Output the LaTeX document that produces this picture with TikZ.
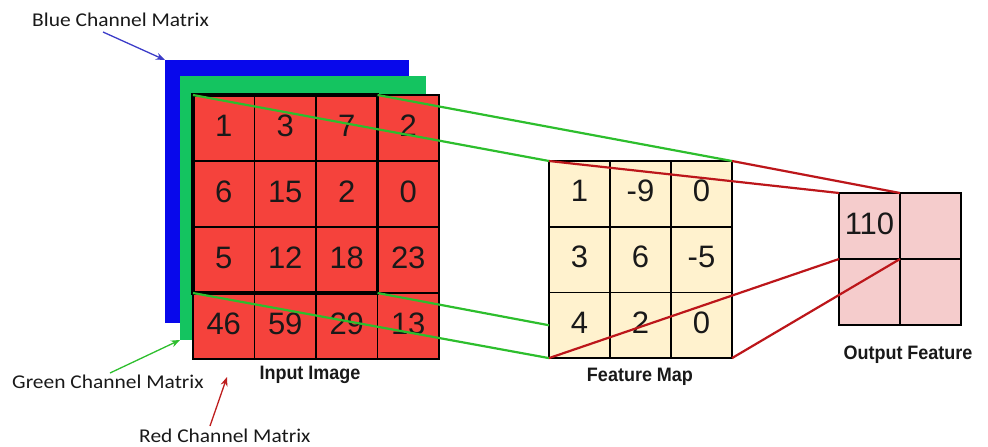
\documentclass[tikz,border=0pt]{standalone}
\usepackage{fontspec}
\setmainfont{Liberation Sans}
\newfontfamily\labelfont{Carlito}
\usetikzlibrary{fit,arrows.meta}

\definecolor{planeblue}{RGB}{8,8,235}
\definecolor{planegreen}{RGB}{20,196,96}
\definecolor{cellred}{RGB}{245,66,60}
\definecolor{cellcream}{RGB}{255,242,206}
\definecolor{cellpink}{RGB}{245,204,204}
\definecolor{linkgreen}{RGB}{45,190,45}
\definecolor{linkred}{RGB}{188,22,26}
\definecolor{tagblue}{RGB}{60,60,200}
\definecolor{tagred}{RGB}{190,30,30}
\definecolor{ink}{RGB}{25,25,25}

\tikzset{
  cellbase/.style={draw=black, line width=1.6pt, inner sep=0pt, outer sep=0pt,
    font=\fontsize{31}{31}\selectfont, text=ink, text depth=6pt, text height=22pt},
  redcell/.style={cellbase, fill=cellred, minimum width=61.5pt, minimum height=66pt},
  creamcell/.style={cellbase, fill=cellcream, minimum width=61pt, minimum height=65.7pt},
  pinkcell/.style={cellbase, fill=cellpink, minimum width=61pt, minimum height=66pt},
  plane/.style={inner sep=0pt, outer sep=0pt},
  chantag/.style={font=\labelfont\fontsize{19.5}{19.5}\selectfont, text=ink, inner sep=0pt, anchor=west, xscale=1.1},
  caption/.style={font=\bfseries\fontsize{18}{18}\selectfont, text=ink, inner sep=0pt, yscale=1.08},
  linkg/.style={draw=linkgreen, line width=2.2pt},
  linkr/.style={draw=linkred, line width=2.2pt},
  tagarrow/.style={line width=1.3pt, -{Stealth[length=9pt,width=7pt]}},
}

\begin{document}
\begin{tikzpicture}[x=1pt, y=-1pt]
\useasboundingbox (0,0) rectangle (988,447);

% colour planes behind the red channel
\node[plane, fill=planeblue, minimum width=244pt, minimum height=263pt, anchor=north west] (blue) at (165,60) {};
\node[plane, fill=planegreen, minimum width=246pt, minimum height=264pt, anchor=north west] (green) at (180,76) {};

% red channel 4x4
\foreach \row/\vals in {1/{1,3,7,2}, 2/{6,15,2,0}, 3/{5,12,18,23}, 4/{46,59,29,13}} {
  \foreach \v [count=\col] in \vals {
    \node[redcell] (r\row\col) at ({193+61.5*(\col-0.5)}, {95+66*(\row-0.5)}) {\v};
  }
}
% 3x3 window
\node[fit=(r11)(r33), inner sep=0pt, outer sep=0pt, draw=black, line width=3.4pt] (win) {};

% feature map 3x3
\foreach \row/\vals in {1/{1,-9,0}, 2/{3,6,-5}, 3/{4,2,0}} {
  \foreach \v [count=\col] in \vals {
    \node[creamcell] (f\row\col) at ({549+61*(\col-0.5)}, {161+65.7*(\row-0.5)}) {\v};
  }
}
\node[fit=(f11)(f33), inner sep=0pt, outer sep=0pt] (fm) {};

% output feature 2x2
\foreach \row/\vals in {1/{110,{}}, 2/{{},{}}} {
  \foreach \v [count=\col] in \vals {
    \node[pinkcell] (o\row\col) at ({839+61*(\col-0.5)}, {193+66*(\row-0.5)}) {\v};
  }
}
\node[fit=(o11)(o22), inner sep=0pt, outer sep=0pt] (of) {};

% window to feature map
\draw[linkg] (win.north west) -- (fm.north west);
\draw[linkg] (win.north east) -- (fm.north east);
\draw[linkg] (win.south west) -- (fm.south west);
\draw[linkg] (win.south east) -- (f31.west);

% feature map to output
\draw[linkr] (fm.north west) -- (of.north west);
\draw[linkr] (fm.north east) -- (o11.north east);
\draw[linkr] (fm.south west) -- (o11.south west);
\draw[linkr] (fm.south east) -- (o11.south east);

% captions
\node[caption] (capin) at (310,375) {Input Image};
\node[caption] (capfm) at (640,377) {Feature Map};
\node[caption] (capout) at (908,355) {Output Feature};

% channel tags
\node[chantag] (tagb) at (32,20) {Blue Channel Matrix};
\node[chantag] (tagg) at (12,382) {Green Channel Matrix};
\node[chantag] (tagr) at (139,436) {Red Channel Matrix};

\coordinate (tailb) at (103,32);
\coordinate (tailg) at (110,373);
\coordinate (tailr) at (210,426);
\coordinate (headr) at (227,377);

\draw[tagarrow, tagblue] (tailb) -- (blue.north west);
\draw[tagarrow, linkgreen] (tailg) -- (green.south west);
\draw[tagarrow, tagred] (tailr) -- (headr);
\end{tikzpicture}
\end{document}
